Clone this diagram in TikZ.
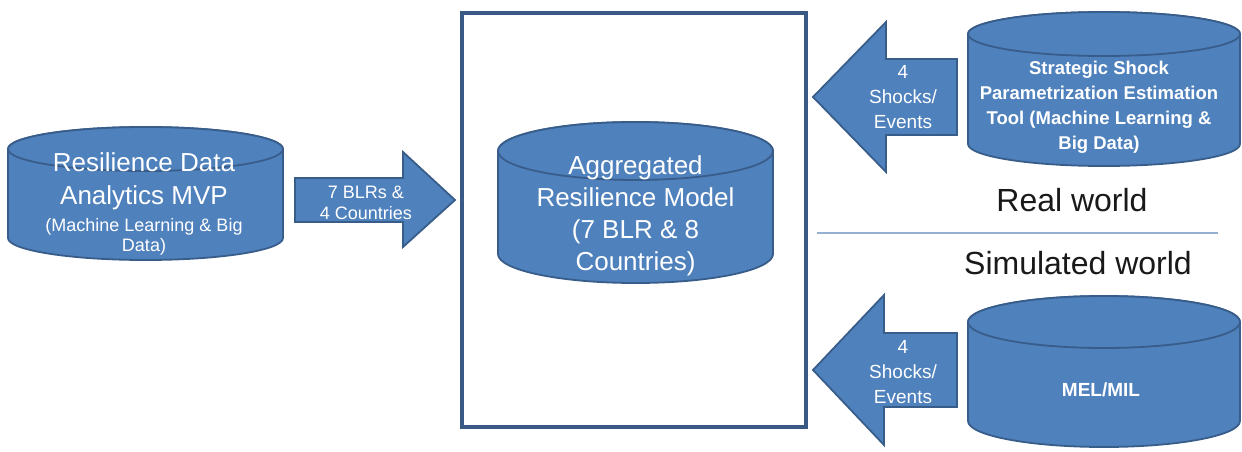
\documentclass[tikz,border=0pt]{standalone}
\usepackage{fontspec}
\setmainfont{Liberation Sans}
\begin{document}
\begin{tikzpicture}[x=1pt,y=-1pt,
  drum/.style={fill=drumfill,draw=drumline,line width=1.8pt,line join=round},
  blockarrow/.style={fill=drumfill,draw=drumline,line width=1.8pt,line join=miter},
  inlabel/.style={text=white,align=center,inner sep=0pt},
  worldlabel/.style={text=black!90,inner sep=0pt,font=\fontsize{32}{38}\selectfont}]
\definecolor{drumfill}{HTML}{4F81BD}
\definecolor{drumline}{HTML}{385D8A}
\definecolor{framecol}{HTML}{3A5A86}
\definecolor{rulecol}{HTML}{95AFCF}
\useasboundingbox (0,0) rectangle (1242,452);
% cylinder: centre x, half width, top-ellipse y, bottom-ellipse y, y radius
\newcommand\drumshape[5]{%
  \filldraw[drum] (#1-#2,#3) -- (#1-#2,#4)
    arc[start angle=180,end angle=360,x radius=#2pt,y radius=#5pt]
    -- (#1+#2,#3)
    arc[start angle=0,end angle=180,x radius=#2pt,y radius=#5pt] -- cycle;
  \filldraw[drum] (#1,#3) ellipse[x radius=#2pt,y radius=#5pt];
}

% central frame
\draw[framecol,line width=3.2pt] (462,13) rectangle (806,427);

% data stores
\drumshape{145.5}{137.5}{149}{238}{22}
\drumshape{635.5}{137.5}{151}{254}{29}
\drumshape{1104}{136}{34}{144}{22}
\drumshape{1104}{136}{322}{421}{26}

\node[inlabel,font=\fontsize{26}{33}\selectfont] (rdaTitle) at (144,181.5)
  {Resilience Data\\Analytics MVP};
\node[inlabel,font=\fontsize{18}{20.5}\selectfont] (rdaSub) at (144,237)
  {(Machine Learning \& Big\\Data)};
\node[inlabel,font=\fontsize{26}{32}\selectfont] (arm) at (635.5,216)
  {Aggregated\\Resilience Model\\(7 BLR \& 8\\Countries)};
\node[inlabel,font=\bfseries\fontsize{18.5}{25}\selectfont] (sspet) at (1099,107.5)
  {Strategic Shock\\Parametrization Estimation\\Tool (Machine Learning \&\\Big Data)};
\node[inlabel,font=\bfseries\fontsize{19}{23}\selectfont] (melmil) at (1101,390) {MEL/MIL};

% block arrows
\filldraw[blockarrow] (295,178) -- (403,178) -- (403,152) -- (455,200)
  -- (403,247) -- (403,222) -- (295,222) -- cycle;
\node[inlabel,font=\fontsize{18}{21}\selectfont] (blrs) at (366,202.5)
  {7 BLRs \&\\4 Countries};

\filldraw[blockarrow] (957,59) -- (886,59) -- (886,22) -- (813,97)
  -- (886,172) -- (886,135) -- (957,135) -- cycle;
\node[inlabel,font=\fontsize{19}{25}\selectfont] (shockTop) at (903,97.5)
  {4\\Shocks/\\Events};

\filldraw[blockarrow] (957,333) -- (884,333) -- (884,295) -- (813,370)
  -- (884,445) -- (884,407) -- (957,407) -- cycle;
\node[inlabel,font=\fontsize{19}{25}\selectfont] (shockBot) at (903,372.5)
  {4\\Shocks/\\Events};

% world labels and separator
\node[worldlabel] (real) at (1072,200) {Real world};
\draw[rulecol,line width=1.6pt] (817,233) -- (1218,233);
\node[worldlabel] (sim) at (1078,263) {Simulated world};
\end{tikzpicture}
\end{document}
